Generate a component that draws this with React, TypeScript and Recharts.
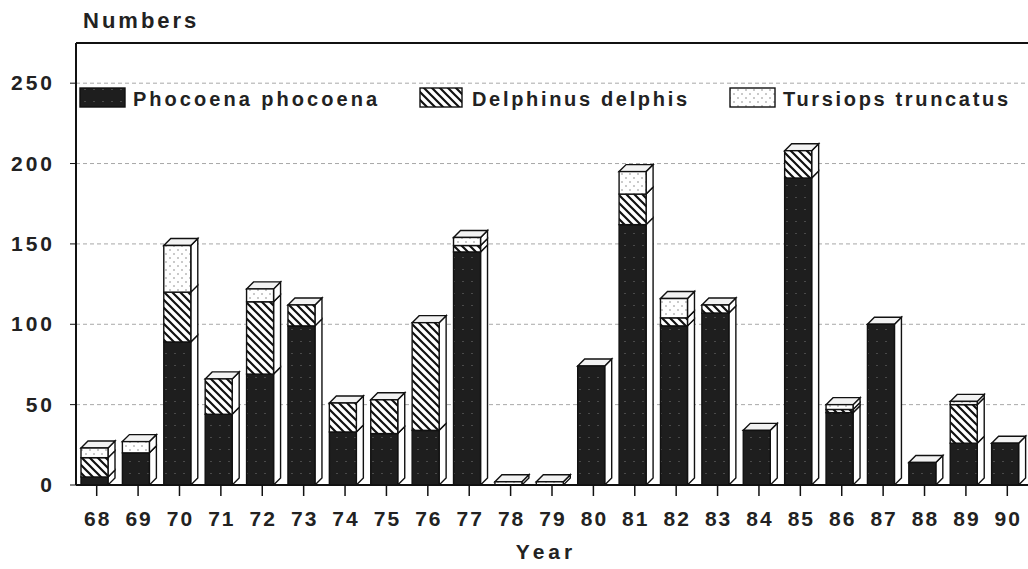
import React from 'react';
import { BarChart, Bar, XAxis, YAxis, CartesianGrid } from 'recharts';

// Stranded cetaceans per year
const years = ['68', '69', '70', '71', '72', '73', '74', '75', '76', '77', '78', '79',
  '80', '81', '82', '83', '84', '85', '86', '87', '88', '89', '90'];
const phocoena = [5, 20, 89, 44, 69, 99, 33, 32, 34, 145, 0, 0, 74, 162, 99, 107, 34, 191, 45, 100, 14, 26, 26];
const delphinus = [12, 0, 31, 22, 45, 13, 18, 21, 67, 4, 0, 0, 0, 19, 5, 5, 0, 17, 2, 0, 0, 24, 0];
const tursiops = [6, 7, 29, 0, 8, 0, 0, 0, 0, 5, 2, 2, 0, 14, 12, 0, 0, 0, 3, 0, 0, 2, 0];
const yTicks = [0, 50, 100, 150, 200, 250];

const seriesNames = ['Phocoena phocoena', 'Delphinus delphis', 'Tursiops truncatus'];
const fills = ['url(#darkFill)', 'url(#hatchFill)', 'url(#dotFill)'];

const data = years.map((year, i) => ({
  year,
  phocoena: phocoena[i],
  delphinus: delphinus[i],
  tursiops: tursiops[i]
}));

const FONT = 'Arial, "Liberation Sans", Helvetica, sans-serif';
const DEPTH = 7;
const SHIFT = -2;

const isTop = (key: string, p: any) => {
  if (key === 'phocoena') return p.delphinus + p.tursiops === 0;
  if (key === 'delphinus') return p.tursiops === 0;
  return true;
};

// 3D-looking bar segment: front face, right side and (for the top segment) a lid
const Bar3D = (props: any) => {
  const { y, width, height, fill, payload, dataKey } = props;
  if (!height || height <= 0) return null;
  const x = props.x + SHIFT;
  const d = DEPTH;
  const top = isTop(dataKey, payload);
  return (
    <g>
      <polygon
        points={`${x + width},${y} ${x + width + d},${y - d} ${x + width + d},${y + height - d} ${x + width},${y + height}`}
        fill="#fff" stroke="#111" strokeWidth={1.4}
      />
      {top && (
        <polygon
          points={`${x},${y} ${x + d},${y - d} ${x + width + d},${y - d} ${x + width},${y}`}
          fill="#f2f2f2" stroke="#111" strokeWidth={1.4}
        />
      )}
      <rect x={x} y={y} width={width} height={height} fill={fill} stroke="#111" strokeWidth={1.4} />
    </g>
  );
};

// legend items placed where they sit in the original figure
const legendSwatchX = [80, 420, 730];
const legendSwatchW = [45, 42, 45];
const legendTextX = [133, 472, 783];
const legendTextW = [244, 215, 225];

const YTick = (props: any) => {
  const { y, payload } = props;
  return (
    <text x={55} y={y + 7} textAnchor="end" fontFamily={FONT} fontWeight={700} fontSize={21} letterSpacing={3} fill="#222">
      {payload.value}
    </text>
  );
};

const XTick = (props: any) => {
  const { x, y, payload } = props;
  return (
    <g>
      <line x1={x} y1={y - 8} x2={x} y2={y + 3} stroke="#111" strokeWidth={1.5} />
      <text x={x + 1} y={y + 33} textAnchor="middle" fontFamily={FONT} fontWeight={700} fontSize={21} letterSpacing={2} fill="#222">
        {payload.value}
      </text>
    </g>
  );
};

export default function App() {
  return (
    <div style={{ position: 'absolute', left: 0, top: 0, width: 1028, height: 569, background: '#fff', overflow: 'hidden' }}>
      <svg width={0} height={0} style={{ position: 'absolute' }}>
        <defs>
          <pattern id="darkFill" patternUnits="userSpaceOnUse" width={9} height={12}>
            <rect width={9} height={12} fill="#1e1e1e" />
            <rect x={3} y={5} width={2} height={1} fill="#4a4a4a" />
          </pattern>
          <pattern id="hatchFill" patternUnits="userSpaceOnUse" width={8} height={8}>
            <rect width={8} height={8} fill="#fff" />
            <path d="M-1,-1 L9,9 M-9,-1 L1,9 M7,-1 L17,9" stroke="#111" strokeWidth={2.2} />
          </pattern>
          <pattern id="dotFill" patternUnits="userSpaceOnUse" width={8} height={8}>
            <rect width={8} height={8} fill="#fff" />
            <circle cx={2} cy={2} r={0.8} fill="#888" />
            <circle cx={6} cy={6} r={0.8} fill="#888" />
          </pattern>
        </defs>
      </svg>
      <BarChart
        width={1028}
        height={569}
        data={data}
        margin={{ top: 43, right: 0, left: 0, bottom: 0 }}
        barSize={27}
        barCategoryGap={0}
      >
        <CartesianGrid vertical={false} stroke="#a8a8a8" strokeDasharray="4 3" />
        <XAxis dataKey="year" tick={<XTick />} tickLine={false} axisLine={{ stroke: '#111', strokeWidth: 2 }} interval={0} height={84} />
        <YAxis
          domain={[0, 275]}
          ticks={yTicks}
          width={76}
          tick={<YTick />}
          tickLine={{ stroke: '#111' }}
          axisLine={{ stroke: '#111', strokeWidth: 2 }}
          allowDataOverflow
        />
        <Bar dataKey="phocoena" name={seriesNames[0]} stackId="a" fill={fills[0]} shape={<Bar3D />} isAnimationActive={false} />
        <Bar dataKey="delphinus" name={seriesNames[1]} stackId="a" fill={fills[1]} shape={<Bar3D />} isAnimationActive={false} />
        <Bar dataKey="tursiops" name={seriesNames[2]} stackId="a" fill={fills[2]} shape={<Bar3D />} isAnimationActive={false} />
      </BarChart>
      <svg width={1028} height={569} style={{ position: 'absolute', left: 0, top: 0, pointerEvents: 'none' }}>
        <line x1={76} y1={43} x2={1028} y2={43} stroke="#111" strokeWidth={2} />
        <text x={83} y={28} fontFamily={FONT} fontWeight={700} fontSize={22} letterSpacing={3} fill="#222">Numbers</text>
        <text x={546} y={559} textAnchor="middle" fontFamily={FONT} fontWeight={700} fontSize={21} letterSpacing={4} fill="#222">Year</text>
        {seriesNames.map((name, i) => (
          <g key={name}>
            <rect x={legendSwatchX[i]} y={88} width={legendSwatchW[i]} height={19} fill={fills[i]} stroke="#111" strokeWidth={1.4} />
            <text
              x={legendTextX[i]} y={106} fontFamily={FONT} fontWeight={700} fontSize={20}
              textLength={legendTextW[i]} lengthAdjust="spacing" fill="#222"
            >
              {name}
            </text>
          </g>
        ))}
      </svg>
    </div>
  );
}
